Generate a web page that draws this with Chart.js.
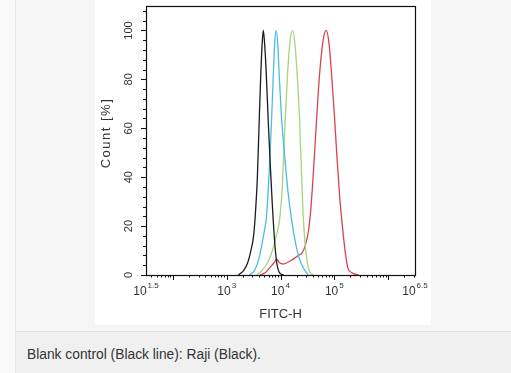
<!DOCTYPE html>
<html>
<head>
<meta charset="utf-8">
<script src="https://cdn.jsdelivr.net/npm/chart.js@4.4.1/dist/chart.umd.min.js"></script>
<style>
  body { margin: 0; width: 511px; height: 373px; background: #f9f9f9; position: relative; overflow: hidden; font-family: "Liberation Sans", Arial, sans-serif; }
  #panel { position: absolute; left: 15px; top: 0; width: 496px; height: 331px; background: #f4f5f4; border-left: 1px solid #e4e5e4; }
  #box { position: absolute; left: 95px; top: 0; width: 336px; height: 325px; background: #fff; }
  #caption { position: absolute; left: 15px; top: 331px; width: 496px; height: 42px; background: #eff0ef; border-top: 1px solid #dfe0df; border-left: 1px solid #e4e5e4; }
  #caption span { position: absolute; left: 11px; top: 15px; font-size: 13.8px; color: #333; }
  canvas { position: absolute; left: 95px; top: 0; }
</style>
</head>
<body>
<div id="panel"></div>
<div id="box"></div>
<div id="caption"><span>Blank control (Black line): Raji (Black).</span></div>
<canvas id="histCanvas" width="336" height="325"></canvas>
<script>
// 축 눈금 (지수 / 값)
const xLabelExps = [1.5, 3, 4, 5, 6.5];
const yLabels = [0, 20, 40, 60, 80, 100];

// 히스토그램 데이터: log10(FITC-H) 와 Count [%]
const blackExp = [3.22, 3.32, 3.39, 3.45, 3.50, 3.53, 3.57, 3.60, 3.63, 3.66, 3.68, 3.70, 3.73, 3.77, 3.81, 3.85, 3.89, 3.93, 3.98, 4.06];
const blackCount = [0, 2, 5, 10, 16, 24, 40, 60, 80, 95, 100, 96, 85, 64, 45, 28, 14, 5, 1, 0];

const cyanExp = [3.42, 3.52, 3.59, 3.65, 3.70, 3.74, 3.78, 3.82, 3.86, 3.89, 3.92, 3.95, 3.98, 4.02, 4.08, 4.14, 4.21, 4.28, 4.36, 4.45, 4.52];
const cyanCount = [0, 2, 6, 12, 18, 24, 38, 56, 78, 94, 100, 94, 80, 64, 48, 34, 22, 13, 6, 2, 0];

const greenExp = [3.56, 3.66, 3.76, 3.85, 3.92, 3.98, 4.03, 4.08, 4.13, 4.18, 4.23, 4.27, 4.31, 4.35, 4.38, 4.42, 4.46, 4.50, 4.55, 4.62];
const greenCount = [0, 2, 5, 10, 16, 22, 35, 60, 82, 96, 100, 94, 82, 66, 48, 25, 12, 5, 1, 0];

const redExp = [3.62, 3.72, 3.80, 3.88, 3.93, 3.98, 4.05, 4.12, 4.20, 4.27, 4.33, 4.40, 4.46, 4.52, 4.56, 4.60, 4.65, 4.70, 4.75, 4.80, 4.85, 4.90, 4.95, 5.00, 5.05, 5.10, 5.15, 5.20, 5.25, 5.32, 5.45];
const redCount = [0, 1, 3, 5, 6.5, 5, 4.5, 5, 6, 7, 8, 9, 12, 18, 26, 38, 56, 74, 88, 97, 100, 95, 82, 66, 48, 32, 20, 10, 3, 1, 0];

function toPoints(exps, counts) {
  return exps.map((e, i) => ({ x: Math.pow(10, e), y: counts[i] }));
}

function makeSet(exps, counts, color) {
  return {
    data: toPoints(exps, counts),
    borderColor: color,
    borderWidth: 1.3,
    pointRadius: 0,
    cubicInterpolationMode: 'monotone',
    fill: false
  };
}

const FONT = '"Liberation Sans", Arial, sans-serif';
const TEXT = '#333';

// 눈금, 라벨, 테두리 그리기
const axisPlugin = {
  id: 'axisPlugin',
  afterDraw(chart) {
    const ctx = chart.ctx;
    const area = chart.chartArea;
    const xs = chart.scales.x;
    const ys = chart.scales.y;
    ctx.save();
    ctx.strokeStyle = '#111';
    ctx.lineWidth = 1.2;
    ctx.strokeRect(Math.round(area.left) + 0.5, Math.round(area.top) + 0.5,
      Math.round(area.right - area.left), Math.round(area.bottom - area.top));

    // x 눈금
    ctx.lineWidth = 1;
    ctx.beginPath();
    for (let n = 1; n <= 6; n++) {
      for (let k = 1; k <= 9; k++) {
        const v = k * Math.pow(10, n);
        if (v < xs.min || v > xs.max) continue;
        const px = Math.round(xs.getPixelForValue(v)) + 0.5;
        const len = k === 1 ? 5 : 2.5;
        ctx.moveTo(px, area.bottom);
        ctx.lineTo(px, area.bottom + len);
      }
    }
    // y 눈금
    for (let v = 0; v <= 108; v += 4) {
      const py = Math.round(ys.getPixelForValue(v)) + 0.5;
      const len = v % 20 === 0 ? 5 : 3;
      ctx.moveTo(area.left, py);
      ctx.lineTo(area.left - len, py);
    }
    ctx.stroke();

    // x 라벨 (10^n)
    ctx.fillStyle = TEXT;
    ctx.textBaseline = 'alphabetic';
    xLabelExps.forEach(e => {
      const px = xs.getPixelForValue(Math.pow(10, e));
      const sup = String(e);
      ctx.font = '12px ' + FONT;
      const wb = ctx.measureText('10').width;
      ctx.font = '8px ' + FONT;
      const ws = ctx.measureText(sup).width;
      const x0 = px - (wb + ws + 1) / 2;
      ctx.font = '12px ' + FONT;
      ctx.textAlign = 'left';
      ctx.fillText('10', x0, area.bottom + 20);
      ctx.font = '8px ' + FONT;
      ctx.fillText(sup, x0 + wb + 1, area.bottom + 13);
    });

    // y 라벨 (세로)
    ctx.font = '11px ' + FONT;
    ctx.textAlign = 'center';
    ctx.textBaseline = 'middle';
    yLabels.forEach(v => {
      const py = ys.getPixelForValue(v);
      ctx.save();
      ctx.translate(area.left - 17, py);
      ctx.rotate(-Math.PI / 2);
      ctx.fillText(String(v), 0, 0);
      ctx.restore();
    });

    // y 축 제목
    ctx.font = '13px ' + FONT;
    ctx.letterSpacing = '1.5px';
    ctx.save();
    ctx.translate(area.left - 40, (area.top + area.bottom) / 2 - 7.5);
    ctx.rotate(-Math.PI / 2);
    ctx.fillText('Count [%]', 0, 0);
    ctx.restore();
    ctx.restore();
  }
};

new Chart(document.getElementById('histCanvas').getContext('2d'), {
  type: 'line',
  data: {
    datasets: [
      makeSet(blackExp, blackCount, '#1c1c1c'),
      makeSet(cyanExp, cyanCount, '#4bbde0'),
      makeSet(greenExp, greenCount, '#a8d27c'),
      makeSet(redExp, redCount, '#d9434d')
    ]
  },
  options: {
    responsive: false,
    animation: false,
    layout: { padding: { top: 6, right: 16, left: 0, bottom: 0 } },
    plugins: { legend: { display: false }, tooltip: { enabled: false } },
    scales: {
      x: {
        type: 'logarithmic',
        min: Math.pow(10, 1.5),
        max: Math.pow(10, 6.5),
        grid: { display: false },
        border: { display: false },
        ticks: { display: false },
        title: {
          display: true,
          text: 'FITC-H',
          color: TEXT,
          font: { family: FONT, size: 13 },
          padding: { top: 0, bottom: 3 }
        },
        afterFit(scale) { scale.height = 50; }
      },
      y: {
        min: 0,
        max: 110,
        grid: { display: false },
        border: { display: false },
        ticks: { display: false },
        afterFit(scale) { scale.width = 51; }
      }
    }
  },
  plugins: [axisPlugin]
});
</script>
</body>
</html>
